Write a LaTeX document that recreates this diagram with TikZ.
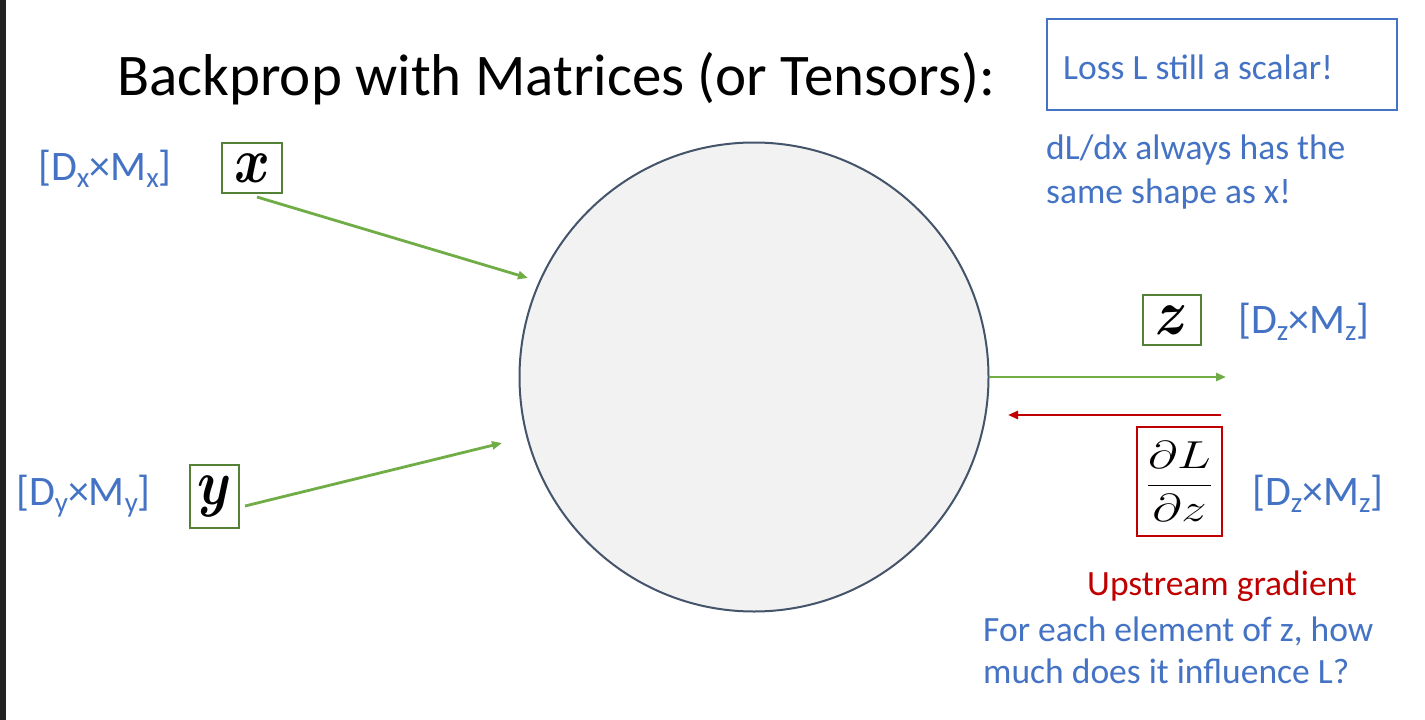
\RequirePackage{fix-cm}
\documentclass[tikz,border=0pt]{standalone}
\usepackage{amsmath,bm}
\usepackage{fontspec}
\setmainfont{Carlito}
\usetikzlibrary{arrows.meta}

\definecolor{slideblue}{HTML}{4472C4}
\definecolor{slidered}{HTML}{C00000}
\definecolor{arrowgreen}{HTML}{70AD47}
\definecolor{boxgreen}{HTML}{538135}
\definecolor{opfill}{HTML}{F2F2F2}
\definecolor{opline}{HTML}{44546A}
\definecolor{edgebar}{HTML}{222222}

\newcommand{\shapelabel}[2]{[D\raisebox{-0.17em}{\fontsize{29}{29}\selectfont #1}\texttimes M\raisebox{-0.17em}{\fontsize{29}{29}\selectfont #2}]}

\tikzset{
  txt/.style={anchor=base west, inner sep=0pt, text=slideblue},
  vbox/.style={draw=#1, line width=2pt, inner sep=0pt, fill=white},
  garrow/.style={draw=arrowgreen, line width=2.8pt, -{Triangle[length=10pt,width=8pt]}},
  rarrow/.style={draw=slidered, line width=2.8pt, -{Triangle[length=10pt,width=8pt]}}
}

\begin{document}
\begin{tikzpicture}[x=1pt,y=-1pt]
  \useasboundingbox (0,0) rectangle (1425,720);
  \fill[white] (0,0) rectangle (1425,720);
  \fill[edgebar] (0,0) rectangle (6,720);

  % title
  \node[txt, text=black, font=\fontsize{59}{70}\selectfont] (title) at (117,95) {Backprop with Matrices (or Tensors):};

  % note box and remark (multi-line nodes are placed by their last baseline)
  \node[draw=slideblue, line width=2pt, minimum width=350pt, minimum height=91pt, inner sep=0pt] (lossbox) at (1222,64.5) {};
  \node[txt, font=\fontsize{35.5}{42}\selectfont] (losstxt) at (1063,79) {Loss L still a scalar!};
  \node[txt, align=left, font=\fontsize{35.5}{44}\selectfont] (shapenote) at (1046,203) {dL/dx always has the\\same shape as x!};

  % operation node
  \node[circle, draw=opline, line width=2pt, fill=opfill, minimum size=469pt, inner sep=0pt] (op) at (754,377) {};

  % inputs
  \node[vbox=boxgreen, minimum width=60pt, minimum height=50pt] (xb) at (252,168) {\fontsize{64}{64}\selectfont\scalebox{0.85}[1]{$\bm{x}$}};
  \node[vbox=boxgreen, minimum width=49pt, minimum height=63pt] (yb) at (214.5,496.5) {\fontsize{64}{64}\selectfont\scalebox{0.85}[1]{$\bm{y}$}};
  \node[txt, font=\fontsize{42}{42}\selectfont] (xshape) at (38,180) {\shapelabel{x}{x}};
  \node[txt, font=\fontsize{42}{42}\selectfont] (yshape) at (16,505) {\shapelabel{y}{y}};

  % output and upstream gradient
  \node[vbox=boxgreen, minimum width=58pt, minimum height=50pt] (zb) at (1172,320) {\fontsize{64}{64}\selectfont\scalebox{0.85}[1]{$\bm{z}$}};
  \node[txt, font=\fontsize{42}{42}\selectfont] (zshape) at (1238,333) {\shapelabel{z}{z}};
  \node[vbox=slidered, minimum width=85pt, minimum height=109pt] (gb) at (1179.5,481.5) {\fontsize{39}{39}\selectfont\scalebox{1.3}[1]{$\dfrac{\partial L}{\partial z}$}};
  \node[txt, font=\fontsize{42}{42}\selectfont] (gshape) at (1252,505) {\shapelabel{z}{z}};

  \node[txt, text=slidered, font=\fontsize{35.5}{42}\selectfont] (upstream) at (1087,595) {Upstream gradient};
  \node[txt, align=left, font=\fontsize{35.5}{42}\selectfont] (meaning) at (983,683) {For each element of z, how\\much does it influence L?};

  % connectors
  \coordinate (xstart) at (257,197);
  \coordinate (xend) at (528,278);
  \coordinate (ystart) at (245,506);
  \coordinate (yend) at (502,443);
  \coordinate (zend) at (1226,377);
  \coordinate (gstart) at (1221,415);
  \coordinate (gend) at (1008,415);
  \draw[garrow] (xstart) -- (xend);
  \draw[garrow] (ystart) -- (yend);
  \draw[garrow] (op.east) -- (zend);
  \draw[rarrow] (gstart) -- (gend);
\end{tikzpicture}
\end{document}
